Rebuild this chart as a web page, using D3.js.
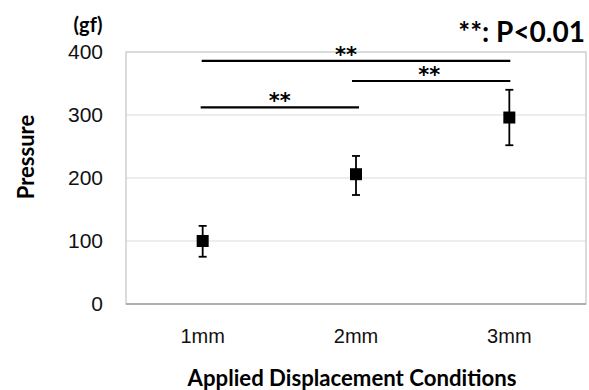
<!DOCTYPE html>
<html>
<head>
<meta charset="utf-8">
<script src="https://cdn.jsdelivr.net/npm/d3@7.9.0/dist/d3.min.js"></script>
<style>
  body { margin: 0; background: #fff; }
  svg { display: block; }
</style>
</head>
<body>
<svg id="chart" width="589" height="390"></svg>
<script>
// data
const categories = ['1mm', '2mm', '3mm'];
const means = [100, 206, 296];
const errLow = [75, 173, 252];
const errHigh = [124, 235, 340];
const yTicks = [0, 100, 200, 300, 400];
// significance brackets: [from, to, height in gf]
const sigPairs = [['1mm', '3mm', 386], ['2mm', '3mm', 354], ['1mm', '2mm', 312]];

const svg = d3.select('#chart');
const margin = { left: 126, right: 3, top: 52, bottom: 86 };
const W = 589, H = 390;

const x = d3.scaleBand().domain(categories).range([margin.left, W - margin.right]);
const y = d3.scaleLinear().domain([0, 400]).range([H - margin.bottom, margin.top]);

const boldFont = 'Lato, "Open Sans", sans-serif';
const tickFont = '"Liberation Sans", Arial, sans-serif';

// shrink/grow a text so it spans the wanted width
function fitWidth(sel, w) {
  const len = sel.node().getComputedTextLength();
  const fs = parseFloat(sel.attr('font-size'));
  sel.attr('font-size', fs * w / len);
}

// gridlines
svg.append('g')
  .selectAll('line')
  .data(yTicks.filter(d => d > 0 && d < 400))
  .join('line')
  .attr('x1', margin.left).attr('x2', W - margin.right)
  .attr('y1', d => y(d)).attr('y2', d => y(d))
  .attr('stroke', '#dcdcdc').attr('stroke-width', 1.2);

// frame
svg.append('rect')
  .attr('x', margin.left).attr('y', y(400))
  .attr('width', W - margin.right - margin.left)
  .attr('height', y(0) - y(400))
  .attr('fill', 'none').attr('stroke', '#c8c8c8').attr('stroke-width', 1.3);
svg.append('line')
  .attr('x1', margin.left).attr('x2', W - margin.right)
  .attr('y1', y(0)).attr('y2', y(0))
  .attr('stroke', '#a0a0a0').attr('stroke-width', 1.5);

// y axis
const yAxis = svg.append('g')
  .attr('transform', `translate(${margin.left},0)`)
  .call(d3.axisLeft(y).tickValues(yTicks).tickSize(0).tickPadding(23));
yAxis.select('.domain').remove();
yAxis.selectAll('text')
  .attr('font-family', tickFont).attr('font-size', 21).attr('fill', '#111')
  .attr('dy', '0.3em');

// x axis
const xAxis = svg.append('g')
  .attr('transform', `translate(0,${y(0)})`)
  .call(d3.axisBottom(x).tickSize(0).tickPadding(25));
xAxis.select('.domain').remove();
xAxis.selectAll('text')
  .attr('font-family', tickFont).attr('font-size', 20).attr('fill', '#111');

// error bars
const cx = d => x(d) + x.bandwidth() / 2;
const eb = svg.append('g').attr('stroke', '#000').attr('stroke-width', 1.8);
categories.forEach((c, i) => {
  eb.append('line').attr('x1', cx(c)).attr('x2', cx(c))
    .attr('y1', y(errLow[i])).attr('y2', y(errHigh[i]));
  eb.append('line').attr('x1', cx(c) - 4).attr('x2', cx(c) + 4)
    .attr('y1', y(errLow[i])).attr('y2', y(errLow[i]));
  eb.append('line').attr('x1', cx(c) - 4).attr('x2', cx(c) + 4)
    .attr('y1', y(errHigh[i])).attr('y2', y(errHigh[i]));
});

// markers
svg.append('g')
  .selectAll('rect')
  .data(categories)
  .join('rect')
  .attr('x', d => cx(d) - 6)
  .attr('y', (d, i) => y(means[i]) - 6)
  .attr('width', 12).attr('height', 12)
  .attr('fill', '#000');

// significance lines (small hand offsets so they sit like the original)
const lineOff = [[-1, 1], [-4, 1], [-2, 3]];
const starShift = [-10, -2, 0];
const sig = svg.append('g');
sigPairs.forEach(([a, b, h], i) => {
  const x1 = cx(a) + lineOff[i][0], x2 = cx(b) + lineOff[i][1];
  sig.append('line')
    .attr('x1', x1).attr('x2', x2)
    .attr('y1', y(h)).attr('y2', y(h))
    .attr('stroke', '#000').attr('stroke-width', 2.2);
  sig.append('text')
    .attr('x', (x1 + x2) / 2 + starShift[i]).attr('y', y(h) + 1)
    .attr('text-anchor', 'middle')
    .attr('font-family', '"DejaVu Sans", sans-serif').attr('font-size', 21)
    .attr('font-weight', 'bold')
    .text('**');
});

// labels
svg.append('text')
  .attr('x', 88).attr('y', 32)
  .attr('text-anchor', 'middle')
  .attr('font-family', boldFont).attr('font-weight', 'bold').attr('font-size', 20)
  .text('(gf)');

svg.append('text')
  .attr('x', 585).attr('y', 42)
  .attr('text-anchor', 'end')
  .attr('font-family', boldFont).attr('font-weight', 'bold').attr('font-size', 28)
  .text('**: P<0.01');

svg.append('text')
  .attr('transform', 'translate(34,157) rotate(-90)')
  .attr('text-anchor', 'middle')
  .attr('font-family', boldFont).attr('font-weight', 'bold').attr('font-size', 22)
  .text('Pressure');

svg.append('text')
  .attr('x', 352).attr('y', 386)
  .attr('text-anchor', 'middle')
  .attr('font-family', boldFont).attr('font-weight', 'bold').attr('font-size', 20)
  .text('Applied Displacement Conditions')
  .call(fitWidth, 329);
</script>
</body>
</html>
